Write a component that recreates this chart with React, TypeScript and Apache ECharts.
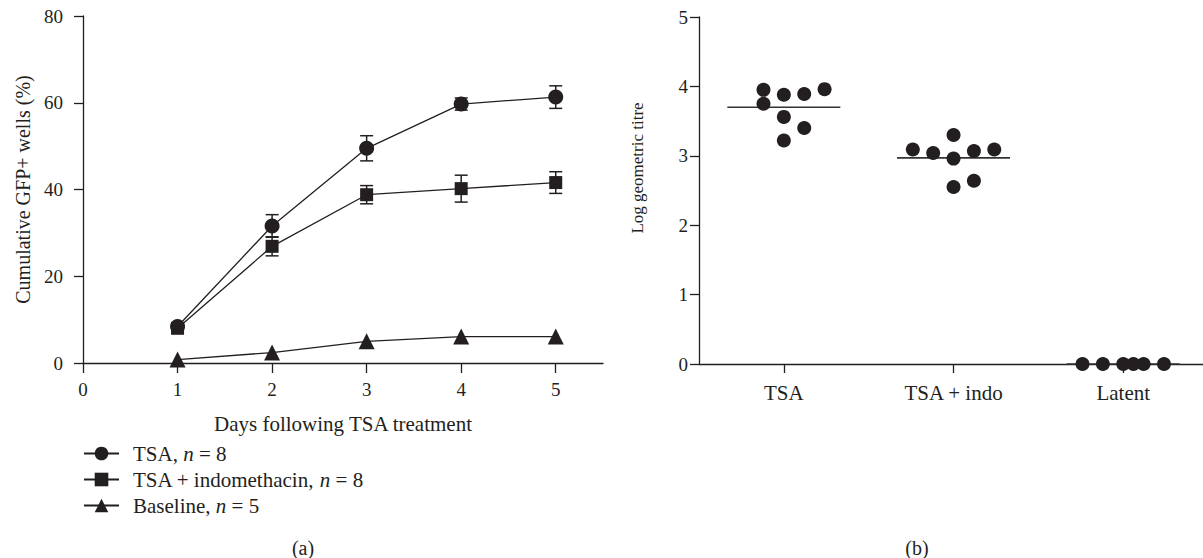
import React, { useEffect, useRef } from 'react';
import * as echarts from 'echarts';

// ---- Panel (a): cumulative GFP+ wells ----
const days = [1, 2, 3, 4, 5];
const xTicksA = [0, 1, 2, 3, 4, 5];
const tsaMean = [8.4, 31.6, 49.5, 59.7, 61.3];
const tsaErr = [0.5, 2.6, 2.9, 1.4, 2.6];
const indoMean = [8.0, 26.9, 38.8, 40.2, 41.6];
const indoErr = [0.5, 2.2, 2.1, 3.1, 2.5];
const baseMean = [0.8, 2.4, 5.0, 6.1, 6.1];
const seriesNames = ['TSA, n = 8', 'TSA + indomethacin, n = 8', 'Baseline, n = 5'];

// ---- Panel (b): log geometric titre ----
const groups = ['TSA', 'TSA + indo', 'Latent'];
const groupTicks = [1, 2, 3];
const tsaTitre = [3.95, 3.75, 3.88, 3.56, 3.22, 3.89, 3.40, 3.96];
const tsaSlot = [-1, -1, 0, 0, 0, 1, 1, 2];
const indoTitre = [3.09, 3.04, 3.30, 2.96, 2.55, 3.07, 2.64, 3.09];
const indoSlot = [-2, -1, 0, 0, 0, 1, 1, 2];
const latentTitre = [0, 0, 0, 0, 0, 0];
const latentSlot = [-2, -1, 0, 0.5, 1, 2];
const medians = [3.70, 2.97, 0];

const INK = '#231f20';
const FONT = 'Liberation Serif';
const JITTER = 0.12;
const MEDIAN_HALF = 0.333;

export default function App() {
  const ref = useRef<HTMLDivElement>(null);

  useEffect(() => {
    if (!ref.current) return;
    const chart = echarts.init(ref.current, undefined, { renderer: 'svg' });

    const axisLine = { show: true, lineStyle: { color: INK, width: 1.3 } };
    const tickStyle = { color: INK, width: 1.3 };
    const labelBase = { color: INK, fontFamily: FONT };

    const errData = (means: number[], errs: number[]) =>
      days.map((d, i) => [d, means[i], errs[i]]);

    const errorRender = (params: any, api: any) => {
      const x = api.value(0);
      const y = api.value(1);
      const e = api.value(2);
      const top = api.coord([x, y + e]);
      const bot = api.coord([x, y - e]);
      const half = 6.5;
      const style = { stroke: INK, lineWidth: 1.5 };
      return {
        type: 'group',
        children: [
          { type: 'line', shape: { x1: top[0], y1: top[1], x2: bot[0], y2: bot[1] }, style },
          { type: 'line', shape: { x1: top[0] - half, y1: top[1], x2: top[0] + half, y2: top[1] }, style },
          { type: 'line', shape: { x1: bot[0] - half, y1: bot[1], x2: bot[0] + half, y2: bot[1] }, style },
        ],
      };
    };

    const medianRender = (params: any, api: any) => {
      const x = api.value(0);
      const y = api.value(1);
      const a = api.coord([x - MEDIAN_HALF, y]);
      const b = api.coord([x + MEDIAN_HALF, y]);
      return {
        type: 'line',
        shape: { x1: a[0], y1: a[1], x2: b[0], y2: b[1] },
        style: { stroke: '#333', lineWidth: 1.6 },
      };
    };

    const lineSeries = (name: string, means: number[], symbol: string, size: number) => ({
      name,
      type: 'line',
      xAxisIndex: 0,
      yAxisIndex: 0,
      data: days.map((d, i) => [d, means[i]]),
      symbol,
      symbolSize: size,
      showSymbol: true,
      itemStyle: { color: INK },
      lineStyle: { color: INK, width: 1.3 },
      z: 3,
    });

    const jittered = (vals: number[], slots: number[], center: number) =>
      vals.map((v, i) => [center + slots[i] * JITTER, v]);

    const option: any = {
      animation: false,
      backgroundColor: '#ffffff',
      textStyle: { fontFamily: FONT, color: INK },
      grid: [
        { left: 83, top: 16, width: 520, height: 347 },
        { left: 699, top: 17, width: 504, height: 347 },
      ],
      xAxis: [
        {
          type: 'value',
          gridIndex: 0,
          min: 0,
          max: 5.5,
          axisLine,
          axisTick: { show: true, customValues: xTicksA, length: 10, lineStyle: tickStyle },
          axisLabel: { ...labelBase, fontSize: 19, margin: 17, customValues: xTicksA },
          splitLine: { show: false },
          name: 'Days following TSA treatment',
          nameLocation: 'middle',
          nameGap: 50,
          nameTextStyle: { ...labelBase, fontSize: 21 },
        },
        {
          type: 'value',
          gridIndex: 1,
          min: 0.5,
          max: 3.47,
          axisLine,
          axisTick: { show: true, customValues: groupTicks, length: 9, lineStyle: tickStyle },
          axisLabel: {
            ...labelBase,
            fontSize: 21,
            margin: 18,
            customValues: groupTicks,
            formatter: (v: number) => groups[Math.round(v) - 1] ?? '',
          },
          splitLine: { show: false },
        },
      ],
      yAxis: [
        {
          type: 'value',
          gridIndex: 0,
          min: 0,
          max: 80,
          interval: 20,
          axisLine,
          axisTick: { show: true, length: 9, lineStyle: tickStyle },
          axisLabel: { ...labelBase, fontSize: 19, margin: 20 },
          splitLine: { show: false },
          name: 'Cumulative GFP+ wells (%)',
          nameLocation: 'middle',
          nameGap: 50,
          nameTextStyle: { ...labelBase, fontSize: 20 },
        },
        {
          type: 'value',
          gridIndex: 1,
          min: 0,
          max: 5,
          interval: 1,
          axisLine,
          axisTick: { show: true, length: 9, lineStyle: tickStyle },
          axisLabel: { ...labelBase, fontSize: 19, margin: 11 },
          splitLine: { show: false },
        },
      ],
      legend: {
        orient: 'vertical',
        left: 83,
        top: 443,
        padding: 0,
        itemWidth: 35,
        itemHeight: 17,
        itemGap: 5,
        data: seriesNames,
        formatter: (name: string) => name.replace(/ n = /, ' {i|n} = '),
        textStyle: {
          ...labelBase,
          fontSize: 21,
          lineHeight: 21,
          padding: [0, 0, 0, 9],
          rich: { i: { fontStyle: 'italic', fontFamily: FONT, fontSize: 21, color: INK } },
        },
      },
      graphic: [
        {
          type: 'text',
          x: 637,
          y: 168,
          rotation: Math.PI / 2,
          style: {
            text: 'Log geometric titre',
            fill: INK,
            fontFamily: FONT,
            fontSize: 17,
            textAlign: 'center',
            textVerticalAlign: 'middle',
          },
        },
        {
          type: 'text',
          x: 303,
          y: 548,
          style: { text: '(a)', fill: INK, fontFamily: FONT, fontSize: 20, textAlign: 'center', textVerticalAlign: 'middle' },
        },
        {
          type: 'text',
          x: 917,
          y: 548,
          style: { text: '(b)', fill: INK, fontFamily: FONT, fontSize: 20, textAlign: 'center', textVerticalAlign: 'middle' },
        },
      ],
      series: [
        {
          type: 'custom',
          xAxisIndex: 0,
          yAxisIndex: 0,
          renderItem: errorRender,
          data: errData(tsaMean, tsaErr),
          z: 1,
          silent: true,
        },
        {
          type: 'custom',
          xAxisIndex: 0,
          yAxisIndex: 0,
          renderItem: errorRender,
          data: errData(indoMean, indoErr),
          z: 1,
          silent: true,
        },
        lineSeries(seriesNames[0], tsaMean, 'circle', 15),
        lineSeries(seriesNames[1], indoMean, 'rect', 13),
        lineSeries(seriesNames[2], baseMean, 'triangle', 16),
        {
          type: 'custom',
          xAxisIndex: 1,
          yAxisIndex: 1,
          renderItem: medianRender,
          data: groupTicks.map((g, i) => [g, medians[i]]),
          z: 2,
          silent: true,
        },
        {
          type: 'scatter',
          xAxisIndex: 1,
          yAxisIndex: 1,
          clip: false,
          symbolSize: 14,
          itemStyle: { color: INK, opacity: 1 },
          data: [
            ...jittered(tsaTitre, tsaSlot, 1),
            ...jittered(indoTitre, indoSlot, 2),
            ...jittered(latentTitre, latentSlot, 3),
          ],
          z: 3,
        },
      ],
    };

    chart.setOption(option);
    return () => chart.dispose();
  }, []);

  return (
    <div
      ref={ref}
      style={{ position: 'fixed', left: 0, top: 0, width: 1203, height: 558, background: '#fff' }}
    />
  );
}
